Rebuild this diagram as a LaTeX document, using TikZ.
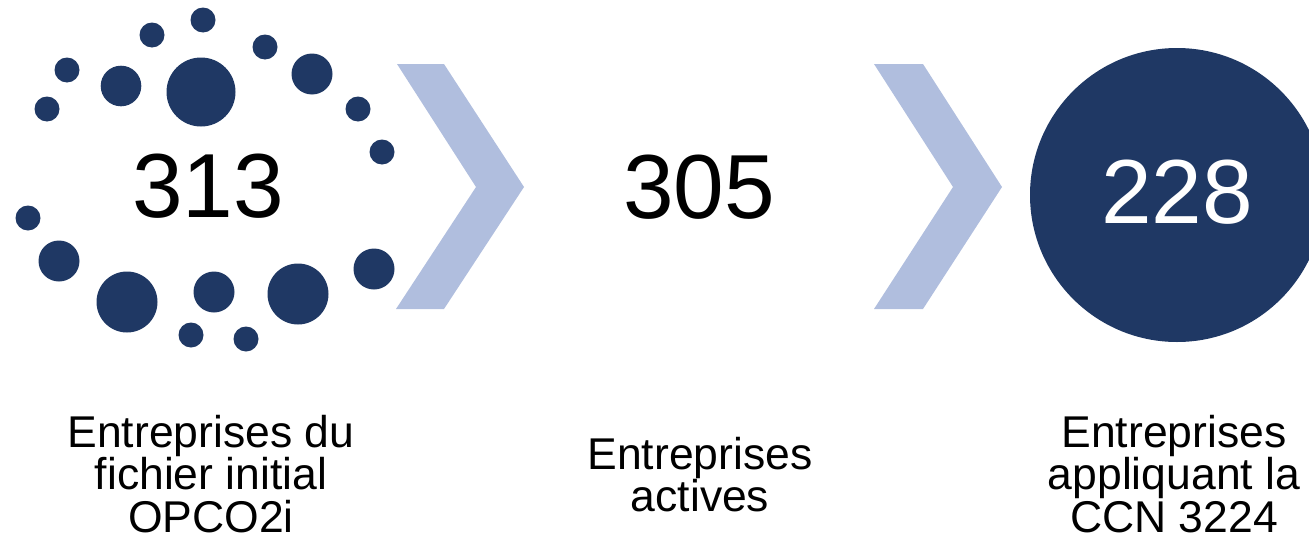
\documentclass[tikz,border=0pt]{standalone}
\usepackage{fontspec}
\setmainfont{Liberation Sans}
\usepackage{tikz}

\definecolor{navy}{RGB}{31,56,100}
\definecolor{chevblue}{RGB}{176,190,222}

\tikzset{
    bignum/.style={anchor=base, inner sep=0pt, font=\fontsize{91}{100}\selectfont},
    caption/.style={anchor=north, inner sep=0pt, align=center, font=\fontsize{44.5}{42.5}\selectfont},
    bigdisc/.style={circle, fill=navy, minimum size=294pt, inner sep=0pt},
}

\begin{document}
\begin{tikzpicture}[x=1pt, y=-1pt]
    \clip (0,0) rectangle (1309,546);
    \useasboundingbox (0,0) rectangle (1309,546);

    % ring of dots round the first figure
    \foreach \x/\y/\r in {203/20/12.5, 152/35/12.5, 265/47/12.5, 67/70/12.5, 121/86/20.3,
        201/92/34.5, 312/74/20.5, 47/109/12.5, 358/109/12.5, 382/152/12.5, 28/218/12.5,
        59/261/20.5, 374/269/20.5, 127/302/30.5, 214/292/20.5, 298/294/30.5,
        191/335/12.5, 246/339/12.5}
        \fill[navy] (\x,\y) circle (\r pt);

    \node[bignum] (n313) at (208,217) {313};

    \fill[chevblue] (397,64) -- (444,64) -- (524,187) -- (444,309) -- (396,309) -- (476,187) -- cycle;

    \node[bignum] (n305) at (699,218) {305};

    \fill[chevblue] (874,64) -- (923,64) -- (1002,187) -- (923,309) -- (874,309) -- (953,187) -- cycle;

    \node[bigdisc] (ccn) at (1177,195) {};
    \node[bignum, text=white] (n228) at (1177,223) {228};

    \node[caption] (lab1) at (211,415) {Entreprises du\\fichier initial\\OPCO2i};
    \node[caption] (lab2) at (700,437) {Entreprises\\actives};
    \node[caption] (lab3) at (1174,415) {Entreprises\\appliquant la\\CCN 3224};
\end{tikzpicture}
\end{document}
